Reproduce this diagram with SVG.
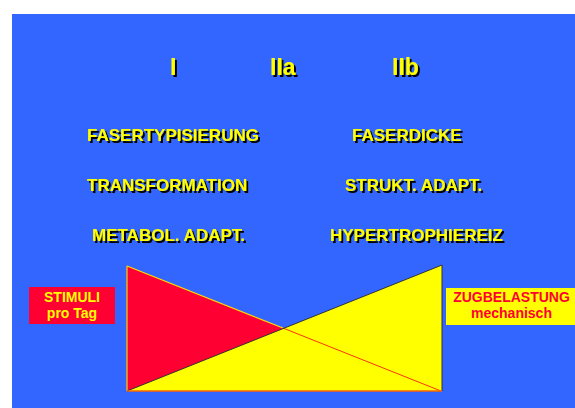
<svg xmlns="http://www.w3.org/2000/svg" width="575" height="408" viewBox="0 0 575 408">
  <defs>
    <filter id="shadow" x="-10%" y="-20%" width="130%" height="160%">
      <feOffset in="SourceAlpha" dx="2" dy="2" result="off"/>
      <feFlood flood-color="#000000"/>
      <feComposite in2="off" operator="in" result="sh"/>
      <feMerge>
        <feMergeNode in="sh"/>
        <feMergeNode in="SourceGraphic"/>
      </feMerge>
    </filter>
  </defs>
  <style>
    text { font-family: "Liberation Sans", Arial, sans-serif; font-weight: bold; }
    .title { font-size: 23px; fill: #FFFF00; }
    .lbl { font-size: 17px; fill: #FFFF00; }
    .box { font-size: 14px; text-anchor: middle; }
  </style>
  <rect x="0" y="0" width="575" height="408" fill="#FFFFFF"/>
  <rect x="12" y="14" width="563" height="394" fill="#3366FF"/>

  <g id="headers" filter="url(#shadow)">
    <text class="title" x="170" y="75">I</text>
    <text class="title" x="270" y="75">IIa</text>
    <text class="title" x="392" y="75">IIb</text>
  </g>

  <g id="left-labels" filter="url(#shadow)">
    <text class="lbl" x="87" y="141">FASERTYPISIERUNG</text>
    <text class="lbl" x="87" y="191">TRANSFORMATION</text>
    <text class="lbl" x="92" y="241">METABOL. ADAPT.</text>
  </g>

  <g id="right-labels" filter="url(#shadow)">
    <text class="lbl" x="352" y="141">FASERDICKE</text>
    <text class="lbl" x="345" y="191">STRUKT. ADAPT.</text>
    <text class="lbl" x="330" y="241">HYPERTROPHIEREIZ</text>
  </g>

  <g id="triangles">
    <polygon points="127,266 127,391 441,391" fill="#FF0033"/>
    <polygon points="127,391 442,265 442,391" fill="#FFFF00"/>
    <line x1="127" y1="266" x2="127" y2="391" stroke="#FFCC00" stroke-width="1.2"/>
    <line x1="127" y1="266" x2="283.6" y2="328.3" stroke="#FFDD00" stroke-width="1.2"/>
    <line x1="283.6" y1="328.3" x2="441" y2="391" stroke="#FF3300" stroke-width="1"/>
    <line x1="127" y1="391" x2="442" y2="265" stroke="#333333" stroke-width="1"/>
    <line x1="442" y1="265" x2="442" y2="391" stroke="#333333" stroke-width="1"/>
    <line x1="127" y1="391" x2="442" y2="391" stroke="#FF6600" stroke-width="1.5"/>
  </g>

  <g id="stimuli">
    <rect x="29" y="287" width="86" height="37" fill="#FF0033"/>
    <text class="box" x="72" y="302" fill="#FFFF00">STIMULI</text>
    <text class="box" x="72" y="318" fill="#FFFF00">pro Tag</text>
  </g>

  <g id="zugbelastung">
    <rect x="446" y="288" width="129" height="37" fill="#FFFF00"/>
    <text class="box" x="511.5" y="302" fill="#FF0033">ZUGBELASTUNG</text>
    <text class="box" x="511.5" y="318" fill="#FF0033">mechanisch</text>
  </g>
</svg>
